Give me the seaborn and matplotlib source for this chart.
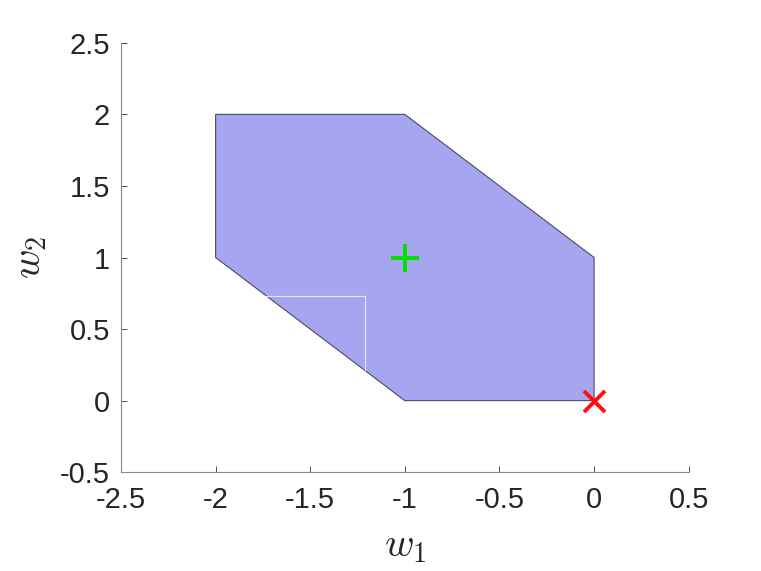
import matplotlib
matplotlib.use("Agg")
import matplotlib.pyplot as plt
import seaborn as sns

# feasible region vertices
region_w1 = [-2, -2, -1, 0, 0, -1]
region_w2 = [1, 2, 2, 1, 0, 0]

# faint seam inside the fill
seam_w1 = [-1.739, -1.211, -1.211]
seam_w2 = [0.731, 0.731, 0.211]

center_w1 = [-1]
center_w2 = [1]
opt_w1 = [0]
opt_w2 = [0]

x_ticks = [-2.5, -2, -1.5, -1, -0.5, 0, 0.5]
y_ticks = [-0.5, 0, 0.5, 1, 1.5, 2, 2.5]
x_labels = ["-2.5", "-2", "-1.5", "-1", "-0.5", "0", "0.5"]
y_labels = ["-0.5", "0", "0.5", "1", "1.5", "2", "2.5"]

sns.set_style("ticks")
plt.rcParams["font.family"] = ["Liberation Sans", "DejaVu Sans"]
plt.rcParams["mathtext.fontset"] = "cm"

fig = plt.figure(figsize=(7.61, 5.71), dpi=100)
ax = fig.add_axes([0.159, 0.173, 0.746, 0.752])

ax.fill(region_w1, region_w2, facecolor="#a6a6f0", edgecolor="#4a4a66",
        linewidth=0.8, zorder=1)
ax.plot(seam_w1, seam_w2, color="#e4e4fa", linewidth=0.8, zorder=2)

sns.scatterplot(x=center_w1, y=center_w2, marker="+", s=380, color="#00e000",
                linewidth=2.8, ax=ax, zorder=3)
sns.scatterplot(x=opt_w1, y=opt_w2, marker="x", s=230, color="#ff1010",
                linewidth=2.8, ax=ax, zorder=3, clip_on=False)

ax.set_xlim(-2.5, 0.5)
ax.set_ylim(-0.5, 2.5)
ax.set_xticks(x_ticks)
ax.set_xticklabels(x_labels)
ax.set_yticks(y_ticks)
ax.set_yticklabels(y_labels)
ax.tick_params(direction="in", length=4, width=0.6, color="#333333",
               labelsize=21, labelcolor="#262626")
ax.tick_params(axis="x", pad=10)
ax.tick_params(axis="y", pad=8)

for side in ["top", "right"]:
    ax.spines[side].set_visible(False)
for side in ["left", "bottom"]:
    ax.spines[side].set_color("#8a8a8a")
    ax.spines[side].set_linewidth(0.8)

ax.set_xlabel(r"$w_1$", fontsize=29, color="#262626", labelpad=9)
ax.set_ylabel(r"$w_2$", fontsize=29, color="#262626", labelpad=8)

fig.savefig("out.png", dpi=100)
